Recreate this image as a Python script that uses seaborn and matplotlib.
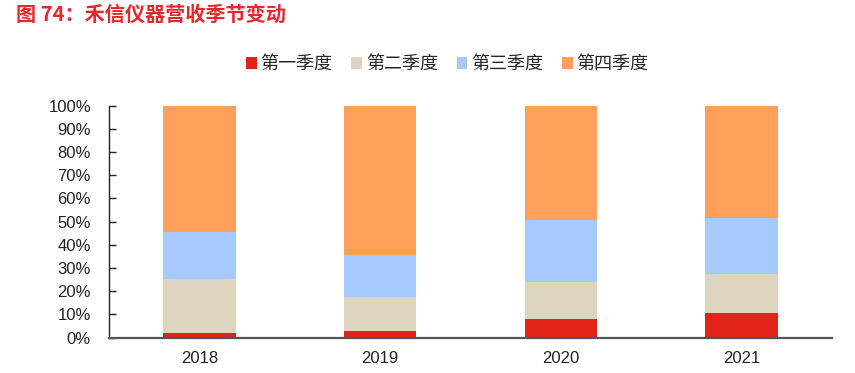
import numpy as np
import pandas as pd
import seaborn as sns
import matplotlib.pyplot as plt
from matplotlib.patches import Patch

# 禾信仪器 quarterly revenue share (%)
years = ["2018", "2019", "2020", "2021"]
quarters = ["第一季度", "第二季度", "第三季度", "第四季度"]
q1 = [2.1, 2.9, 7.9, 10.5]
q2 = [23.2, 14.4, 16.2, 16.9]
q3 = [20.1, 18.3, 26.8, 24.2]
q4 = [54.6, 64.4, 49.1, 48.4]
colors = ["#E2231A", "#DDD5BF", "#A6CAFF", "#FF9F5A"]

sns.set_style("white")
plt.rcParams["font.family"] = ["Liberation Sans", "Noto Sans CJK SC", "DejaVu Sans"]

df = pd.DataFrame({"year": years, quarters[0]: q1, quarters[1]: q2,
                   quarters[2]: q3, quarters[3]: q4})
cum = df[quarters].cumsum(axis=1)

fig = plt.figure(figsize=(8.55, 3.73), dpi=100)
ax = fig.add_axes([0.1275, 0.095, 0.8455, 0.6216])

# draw from the top layer down so each shorter bar sits in front
for q, c in reversed(list(zip(quarters, colors))):
    sns.barplot(x=df["year"], y=cum[q], color=c, saturation=1, width=0.4,
                ax=ax, linewidth=0)

ax.set_xlim(-0.5, 3.5)
ax.set_ylim(0, 100)
ax.set_yticks(np.arange(0, 101, 10))
ax.set_yticklabels([f"{v}%" for v in range(0, 101, 10)])
ax.set_xlabel("")
ax.set_ylabel("")

ax.set_xticks(np.arange(-0.5, 3.6, 1), minor=True)
ax.tick_params(axis="x", which="major", length=0, pad=10, labelsize=12, colors="#222222")
ax.tick_params(axis="x", which="minor", direction="in", length=6, width=1.2, color="#404040")
ax.tick_params(axis="y", direction="in", length=5, width=1, pad=13, labelsize=12,
               color="#222222", labelcolor="#222222", left=True)

sns.despine(ax=ax)
ax.spines["left"].set_color("#222222")
ax.spines["left"].set_linewidth(1)
ax.spines["bottom"].set_color("#555555")
ax.spines["bottom"].set_linewidth(1.6)

handles = [Patch(facecolor=c, edgecolor="none", label=q) for q, c in zip(quarters, colors)]
fig.legend(handles=handles, loc="center", bbox_to_anchor=(0.523, 0.828), ncol=4,
           frameon=False, fontsize=13, handlelength=0.6, handleheight=0.6,
           handletextpad=0.2, columnspacing=1.05,
           prop={"family": ["Noto Sans CJK SC"], "size": 13})

fig.text(0.019, 0.962, "图 74：禾信仪器营收季节变动", color="#E8262B", fontsize=14.5,
         fontweight="bold", family=["Noto Sans CJK SC"], va="center", ha="left")

fig.savefig("out.png", dpi=100)
